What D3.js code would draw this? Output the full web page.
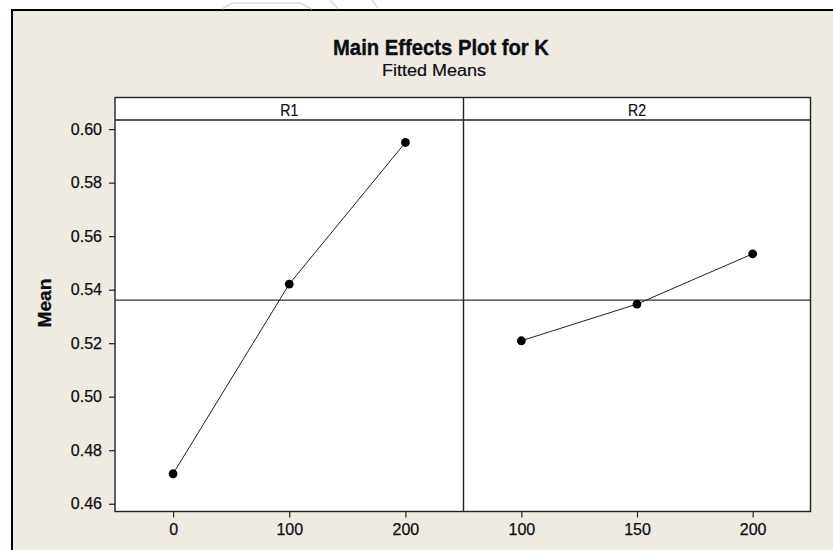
<!DOCTYPE html>
<html>
<head>
<meta charset="utf-8">
<script src="https://cdn.jsdelivr.net/npm/d3@7"></script>
<style>
  html, body { margin: 0; padding: 0; background: #ffffff; }
  svg { display: block; }
  text { font-family: "Liberation Sans", Arial, sans-serif; fill: #0d0d14; }
</style>
</head>
<body>
<svg id="chart" width="833" height="550"></svg>
<script>
// Fitted means of K for each level of the two factors
const factorNames = ["R1", "R2"];
const r1Levels = ["0", "100", "200"];
const r1Means = [0.4712, 0.5421, 0.5950];
const r2Levels = ["100", "150", "200"];
const r2Means = [0.5209, 0.5346, 0.5534];
const yTicks = [0.46, 0.48, 0.50, 0.52, 0.54, 0.56, 0.58, 0.60];
const yDomain = [0.4571, 0.6034];

const titleText = "Main Effects Plot for K";
const subtitleText = "Fitted Means";
const yLabel = "Mean";

const svg = d3.select("#chart");
const W = 833, H = 550;
const FONT = "Liberation Sans, Arial, sans-serif";
const INK = "#0d0d14";

// page + worksheet frame
svg.append("rect").attr("x", 0).attr("y", 0).attr("width", W).attr("height", H).attr("fill", "#ffffff");
svg.append("rect").attr("x", 12).attr("y", 10).attr("width", W + 20).attr("height", H + 20)
  .attr("fill", "#efebe2").attr("stroke", "#000").attr("stroke-width", 2);

// faint stamp fragments above the frame
const stamp = svg.append("g").attr("fill", "none").attr("stroke", "#dcdcdc").attr("stroke-width", 1.5);
stamp.append("path").attr("d", "M222,9 L232,3 L300,3 L312,9");
stamp.append("path").attr("d", "M330,0 L338,9 M372,0 L378,8");

// titles
svg.append("text").attr("x", 441).attr("y", 55).attr("text-anchor", "middle")
  .attr("font-size", 22).attr("font-weight", "bold")
  .attr("stroke", INK).attr("stroke-width", 0.4)
  .attr("textLength", 216).attr("lengthAdjust", "spacingAndGlyphs")
  .text(titleText);
svg.append("text").attr("x", 434).attr("y", 76).attr("text-anchor", "middle")
  .attr("font-size", 16).attr("stroke", INK).attr("stroke-width", 0.2)
  .attr("textLength", 104).attr("lengthAdjust", "spacingAndGlyphs")
  .text(subtitleText);

// panel geometry
const left = 115, right = 810.5, divider = 463.5;
const stripTop = 97.5, plotTop = 120, plotBottom = 511.5;

const y = d3.scaleLinear().domain(yDomain).range([plotBottom, plotTop]);

const panels = [
  { name: factorNames[0], levels: r1Levels, means: r1Means, x0: left, x1: divider },
  { name: factorNames[1], levels: r2Levels, means: r2Means, x0: divider, x1: right }
];

// grand mean reference value
const grandMean = d3.mean(r1Means);

// backgrounds
svg.append("rect").attr("x", left).attr("y", stripTop).attr("width", right - left)
  .attr("height", plotBottom - stripTop).attr("fill", "#ffffff");

panels.forEach(p => {
  const x = d3.scalePoint().domain(p.levels).range([p.x0, p.x1]).padding(0.5);
  const g = svg.append("g");

  // strip label
  g.append("text").attr("x", (p.x0 + p.x1) / 2).attr("y", 116).attr("text-anchor", "middle")
    .attr("font-size", 16).attr("stroke", INK).attr("stroke-width", 0.2)
    .attr("textLength", 18).attr("lengthAdjust", "spacingAndGlyphs")
    .text(p.name);

  // reference line at the grand mean
  g.append("line").attr("x1", p.x0).attr("x2", p.x1)
    .attr("y1", y(grandMean)).attr("y2", y(grandMean))
    .attr("stroke", "#333").attr("stroke-width", 1.2);

  // connecting line
  const pts = p.levels.map((l, i) => [x(l), y(p.means[i])]);
  g.append("path").attr("d", d3.line()(pts)).attr("fill", "none")
    .attr("stroke", "#222").attr("stroke-width", 1);

  // markers
  g.selectAll("circle").data(pts).join("circle")
    .attr("cx", d => d[0]).attr("cy", d => d[1]).attr("r", 4.4).attr("fill", "#000");

  // x axis
  const xa = svg.append("g").attr("transform", `translate(0,${plotBottom})`)
    .call(d3.axisBottom(x).tickSize(6).tickPadding(6));
  xa.attr("font-size", 16).attr("font-family", FONT);
  xa.select(".domain").remove();
  xa.selectAll("line").attr("stroke", "#222").attr("stroke-width", 1.2);
  xa.selectAll("text").attr("fill", INK).attr("stroke", INK).attr("stroke-width", 0.25);
});

// y axis
const ya = svg.append("g").attr("transform", `translate(${left},0)`)
  .call(d3.axisLeft(y).tickValues(yTicks).tickFormat(d3.format(".2f")).tickSize(6).tickPadding(7));
ya.attr("font-size", 16).attr("font-family", FONT);
ya.select(".domain").remove();
ya.selectAll("line").attr("stroke", "#222").attr("stroke-width", 1.2);
ya.selectAll("text").attr("fill", INK).attr("stroke", INK).attr("stroke-width", 0.25);

// y label
svg.append("text").attr("transform", "translate(51,303) rotate(-90)")
  .attr("text-anchor", "middle").attr("font-size", 19).attr("font-weight", "bold")
  .attr("stroke", INK).attr("stroke-width", 0.3)
  .attr("textLength", 49).attr("lengthAdjust", "spacingAndGlyphs")
  .text(yLabel);

// frame lines: outer box, strip separator, panel divider
const frame = svg.append("g").attr("fill", "none").attr("stroke", "#222").attr("stroke-width", 1.4);
frame.append("rect").attr("x", left).attr("y", stripTop).attr("width", right - left)
  .attr("height", plotBottom - stripTop);
frame.append("line").attr("x1", left).attr("x2", right).attr("y1", plotTop).attr("y2", plotTop);
frame.append("line").attr("x1", divider).attr("x2", divider).attr("y1", stripTop).attr("y2", plotBottom);
</script>
</body>
</html>
